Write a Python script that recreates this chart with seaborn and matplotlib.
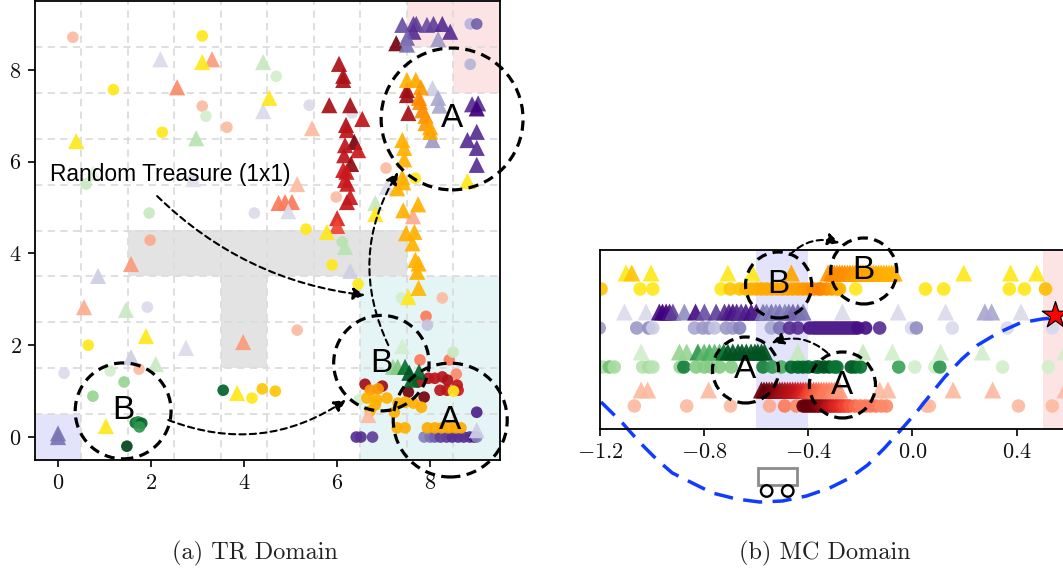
import matplotlib
matplotlib.use("Agg")
import matplotlib.pyplot as plt
import seaborn as sns
from matplotlib.patches import Ellipse, Rectangle

# ---- TR domain values (x, y, shade along the colormap)
tr_red_circ_x = [0.32, 3.10, 3.63, 1.98, 7.05, 5.98, 5.14, 8.26, 1.74, 7.91, 7.78, 8.41, 8.56,
                 6.60, 6.97, 7.74, 7.96, 8.10, 8.26, 8.37, 8.21, 8.36, 8.58, 8.60, 7.53, 7.87]
tr_red_circ_y = [8.71, 7.21, 6.75, 4.29, 5.86, 5.23, 2.33, 3.03, 1.48, 2.63, 1.68, 1.68, 1.37,
                 1.15, 1.11, 1.20, 1.28, 1.28, 1.31, 1.24, 1.02, 1.02, 1.13, 1.02, 0.98, 0.87]
tr_red_circ_s = [.25, .25, .25, .3, .25, .25, .25, .25, .25, .45, .45, .45, .4,
                 .88, .88, .85, .8, .8, .8, .85, .8, .8, .78, .75, .97, .97]

tr_yel_circ_x = [3.10, 1.19, 2.24, 0.65, 4.17, 5.33, 5.89, 6.45, 7.68, 4.67, 4.39, 8.50,
                 6.71, 6.88, 6.64, 6.85, 7.07, 6.71, 6.82, 7.23, 7.31, 7.46, 7.64, 7.81, 7.29, 7.46,
                 7.94, 8.10, 8.25, 8.40, 8.55, 8.66]
tr_yel_circ_y = [8.74, 7.57, 6.64, 2.00, 0.85, 4.53, 3.75, 3.33, 5.64, 1.00, 1.05, 1.00,
                 1.02, 1.05, 0.85, 0.81, 0.85, 0.57, 0.70, 0.54, 0.74, 0.76, 0.74, 0.65, 0.20, 0.20,
                 0.20, 0.20, 0.20, 0.20, 0.20, 0.20]
tr_yel_circ_s = [.25, .25, .25, .25, .25, .25, .25, .25, .25, .45, .45, .25,
                 .8, .8, .6, .6, .6, .6, .6, .6, .6, .6, .6, .6, .6, .6,
                 .65, .65, .65, .65, .65, .65]

tr_grn_circ_x = [3.18, 0.60, 1.96, 4.69, 6.11, 1.12, 7.38, 8.49, 6.47, 1.42, 0.75,
                 1.66, 1.72, 1.80, 1.75, 3.55, 1.48]
tr_grn_circ_y = [6.99, 5.51, 4.88, 7.86, 4.25, 1.44, 3.03, 1.85, 0.81, 1.20, 0.89,
                 0.31, 0.33, 0.30, 0.22, 1.02, -0.20]
tr_grn_circ_s = [.2, .25, .25, .2, .3, .2, .2, .25, .2, .4, .4,
                 .85, .75, .9, .7, .9, 1.0]

tr_pur_circ_x = [4.22, 0.13, 1.92, 5.40, 6.32, 2.90, 7.94, 8.86, 8.86, 9.00,
                 6.41, 6.51, 6.76, 7.87, 8.00, 8.10, 8.22, 8.35, 8.47, 8.60, 8.72, 8.85, 8.95, 9.00, 9.00]
tr_pur_circ_y = [4.88, 1.39, 2.83, 7.23, 7.06, 5.62, 2.44, 8.12, 9.00, 9.00,
                 0.00, 0.00, 0.00, 0.00, 0.00, 0.00, 0.00, 0.00, 0.00, 0.00, 0.00, 0.00, 0.00, 0.00, 0.54]
tr_pur_circ_s = [.25, .25, .25, .25, .25, .25, .35, .4, .4, .7,
                 .85, .85, .8, .6, .65, .7, .8, .8, .85, .85, .85, .85, .95, .6, .9]

tr_red_tri_x = [3.31, 2.56, 5.46, 5.14, 0.56, 1.57, 3.98, 7.63, 6.67, 4.74, 4.88, 5.03,
                6.04, 6.13, 6.13, 5.83, 6.28, 6.54, 6.19, 6.21, 6.37, 6.17, 6.45, 6.15, 6.30,
                6.13, 6.20, 6.17, 6.22, 6.28, 6.21, 6.00, 6.00, 7.27, 7.50, 7.50, 7.53]
tr_red_tri_y = [8.23, 7.62, 6.73, 5.51, 2.83, 3.77, 2.07, 4.81, 0.48, 5.10, 5.12, 5.12,
                8.13, 7.87, 7.78, 7.23, 7.23, 6.93, 6.80, 6.69, 6.43, 6.36, 6.25, 6.14, 5.95,
                5.82, 5.78, 5.60, 5.52, 5.23, 5.12, 4.77, 4.60, 8.58, 7.56, 7.45, 7.06]
tr_red_tri_s = [.35, .4, .25, .25, .3, .35, .35, .3, .25, .45, .45, .45,
                .85, .85, .85, .87, .87, .8, .85, .8, .97, .8, .75, .8, .92,
                .75, .75, .75, .75, .75, .78, .7, .6, .97, .88, .88, .87]

tr_yel_tri_x = [3.10, 0.39, 4.54, 1.89, 1.03, 3.85, 8.80, 6.82, 5.78, 7.53,
                7.50, 7.69, 7.80, 7.76, 7.78, 7.83, 7.90, 7.90, 8.00, 8.00, 7.40, 7.44, 7.44, 7.40,
                7.42, 7.29, 7.42, 7.74, 7.48, 7.66, 7.62, 7.68, 7.75, 7.72, 7.75]
tr_yel_tri_y = [8.17, 6.45, 7.39, 2.20, 0.24, 0.96, 5.58, 4.86, 4.47, 3.05,
                7.78, 7.78, 7.62, 7.39, 7.30, 7.12, 7.00, 6.84, 6.75, 6.65, 6.47, 6.30, 6.05, 5.66,
                5.55, 5.42, 4.94, 5.07, 4.44, 4.47, 4.22, 3.86, 3.78, 3.60, 3.25]
tr_yel_tri_s = [.25, .25, .25, .25, .25, .25, .25, .25, .25, .25,
                .6, .65, .8, .9, .9, .9, .85, .8, .7, .7, .6, .6, .6, .6,
                .6, .6, .6, .6, .6, .6, .6, .6, .6, .6, .55]

tr_grn_tri_x = [4.41, 2.97, 0.75, 1.46, 2.10, 6.82, 6.17, 7.40, 7.20, 7.30, 7.46, 7.55, 7.60, 7.76]
tr_grn_tri_y = [8.17, 6.51, 5.75, 2.77, 1.59, 5.10, 4.14, 1.98, 1.53, 1.53, 1.53, 1.40, 1.25, 1.42]
tr_grn_tri_s = [.25, .3, .15, .25, .25, .25, .3, .2, .4, .45, .85, .95, .9, .9]

tr_pur_tri_x = [2.20, 4.41, 2.90, 4.95, 7.07, 6.28, 0.86, 2.75, 1.57, 9.00, 0.00, 0.00,
                8.05, 8.17, 8.20, 8.05, 8.17, 8.90, 9.03, 9.00, 9.00, 8.80, 9.00, 9.00,
                7.40, 7.64, 7.70, 7.93, 8.07, 8.26, 8.43, 7.64, 7.50, 7.50]
tr_pur_tri_y = [8.23, 7.10, 5.62, 4.92, 5.45, 3.62, 3.51, 1.94, 1.74, 0.15, 0.08, 0.00,
                7.60, 7.39, 7.22, 6.47, 8.67, 7.25, 7.27, 7.16, 6.65, 6.47, 6.30, 5.93,
                8.98, 9.00, 9.00, 8.98, 9.00, 9.00, 8.83, 8.83, 8.70, 8.55]
tr_pur_tri_s = [.25, .25, .2, .25, .25, .3, .3, .25, .3, .3, .65, .65,
                .3, .45, .45, .5, .5, .85, .85, 1.0, .85, .85, .85, .85,
                .75, .8, .8, .75, .8, .85, .85, .85, .7, .65]

# ---- MC domain values (position along the track, shade), one row per list
mc_red_circ_x = [-1.068, -0.867, -0.699, -0.549, -0.491, -0.446, -0.42, -0.41, -0.40, -0.39, -0.38, -0.37, -0.36,
                 -0.35, -0.34, -0.33, -0.32, -0.31, -0.30, -0.29, -0.28, -0.27, -0.26, -0.25, -0.24,
                 -0.22, -0.20, -0.18, -0.16, -0.14, -0.12, -0.10,
                 0.054, 0.065, 0.407, 0.537]
mc_red_circ_s = [.25, .25, .25, .3, .45, .4, 1, 1, 1, 1, 1, .98, .95,
                 .92, .9, .85, .8, .75, .72, .7, .68, .65, .62, .6, .55,
                 .5, .45, .45, .45, .45, .4, .4,
                 .25, .25, .25, .25]
mc_red_tri_x = [-1.042, -1.017, -0.783, -0.58, -0.57, -0.56, -0.55, -0.54, -0.53, -0.52, -0.51, -0.50, -0.49,
                -0.48, -0.47, -0.46, -0.45, -0.44, -0.43, -0.42, -0.41, -0.40, -0.39, -0.38, -0.37,
                -0.36, -0.35, -0.34, -0.33, -0.32, -0.31, -0.30, -0.29, -0.28, -0.126, -0.094, 0.156, 0.308, 0.586]
mc_red_tri_s = [.25, .25, .25, 1, 1, 1, .98, .95, .95, .92, .9, .88, .86,
                .85, .82, .8, .78, .75, .72, .7, .65, .6, .58, .55, .52,
                .5, .48, .45, .45, .45, .42, .4, .38, .35, .25, .25, .25, .25, .25]
mc_grn_circ_x = [-1.19, -1.164, -1.145, -1.036, -1.013, -0.997, -0.892, -0.878, -0.831, -0.799, -0.773,
                 -0.741, -0.696, -0.574, -0.538, -0.504, -0.465, -0.44, -0.42, -0.40, -0.37, -0.36, -0.34, -0.32,
                 -0.30, -0.29, -0.235, -0.22, -0.20, -0.053, 0.009, 0.086, 0.105, 0.346, 0.522]
mc_grn_circ_s = [.3, .5, .35, .3, .35, .3, .4, .8, .45, .45, .45,
                 .45, .45, .8, .7, .6, .9, .9, .9, .9, .9, .9, .95, .95,
                 .85, .85, .95, .9, .85, .65, .2, .2, .7, .2, .2]
mc_grn_tri_x = [-1.042, -0.895, -0.867, -0.824, -0.80, -0.78, -0.76, -0.741, -0.725, -0.709, -0.69, -0.67,
                -0.655, -0.638, -0.62, -0.605, -0.594, -0.58, -0.568,
                -0.44, -0.19, -0.077, 0.108, 0.268, 0.586]
mc_grn_tri_s = [.2, .4, .4, .7, .55, .6, .55, .55, .85, .95, .95, .95,
                .95, .95, .95, .95, .95, .95, .95,
                .25, .25, .2, .2, .2, .2]
mc_pur_circ_x = [-1.203, -1.059, -1.013, -0.997, -0.837, -0.805, -0.783, -0.76, -0.715, -0.69, -0.664,
                 -0.542, -0.51, -0.472, -0.44, -0.395, -0.38, -0.37, -0.36, -0.35, -0.34, -0.33, -0.32, -0.31,
                 -0.30, -0.29, -0.28, -0.27, -0.26, -0.25, -0.24, -0.23, -0.22, -0.21, -0.18, -0.126,
                 -0.004, 0.015, 0.153, 0.364, 0.537]
mc_pur_circ_s = [.5, .5, .55, .3, .45, .5, .5, .35, .5, .5, .6,
                 .45, .65, .85, .85, .95, .9, .9, .9, .9, .9, .9, .9, .9,
                 .9, .9, .9, .9, .9, .9, .9, .9, .9, .95, .95, .85,
                 .25, .55, .25, .25, .25]
mc_pur_tri_x = [-1.106, -1.023, -0.972, -0.96, -0.946, -0.933, -0.92, -0.876, -0.833, -0.799, -0.754, -0.722, -0.705,
                -0.69, -0.675, -0.658, -0.64, -0.619, -0.60, -0.574, -0.56, -0.542, -0.525, -0.51, -0.49, -0.475,
                -0.459, -0.44, -0.42, -0.269, -0.055, 0.127, 0.278, 0.304, 0.417]
mc_pur_tri_s = [.25, .25, .95, 1, 1, .95, .8, .55, .95, .75, .8, .85, .9,
                .95, .9, .85, .9, .95, .9, .65, .6, .65, .6, .65, .6, .65,
                .7, .7, .65, .25, .25, .25, .45, .45, .25]
mc_yel_circ_x = [-1.196, -1.046, -0.997, -0.735, -0.70, -0.664, -0.64, -0.62, -0.60, -0.58, -0.56, -0.54, -0.52, -0.50,
                 -0.48, -0.46, -0.44, -0.42, -0.40, -0.38, -0.36, -0.35, -0.33, -0.31, -0.29, -0.28, -0.218,
                 0.05, 0.12, 0.372, 0.43, 0.511]
mc_yel_circ_s = [.45, .25, .25, .25, .45, .45, .55, .6, .62, .65, .65, .68, .68, .7,
                 .7, .72, .75, .78, .82, .9, .95, .95, .9, .8, .7, .6, .25,
                 .25, .25, .25, .25, .5]
mc_yel_tri_x = [-1.10, -1.078, -1.004, -0.709, -0.615, -0.465, -0.324, -0.31, -0.30, -0.29, -0.28, -0.27, -0.26,
                -0.25, -0.24, -0.23, -0.22, -0.21, -0.20, -0.19, -0.18, -0.17, -0.16, -0.15, -0.14, -0.13,
                -0.12, -0.11, -0.10, -0.09, -0.08, -0.07, 0.197, 0.377, 0.477]
mc_yel_tri_s = [.25, .45, .25, .25, .25, .7, .8, .95, .95, .9, .9, .9, .88,
                .85, .85, .8, .8, .75, .75, .72, .72, .7, .7, .68, .66, .65,
                .64, .62, .62, .6, .6, .6, .25, .25, .25]

# height of each row above the axis line
mc_rows = {"red_circ": 23, "red_tri": 39, "grn_circ": 62, "grn_tri": 77,
           "pur_circ": 101, "pur_tri": 117, "yel_circ": 140, "yel_tri": 156}

# the hill
hill_x = [-1.196, -1.114, -1.049, -0.98, -0.922, -0.83, -0.768, -0.676, -0.587, -0.499, -0.407, -0.318,
          -0.241, -0.172, -0.107, -0.038, 0.016, 0.074, 0.124, 0.19, 0.251, 0.328, 0.413, 0.497, 0.54]
hill_y = [27, 6, -13, -31, -44, -56, -64, -70, -73, -72, -67, -59,
          -49, -36, -19, 1, 17, 36, 52, 70, 84, 96, 106, 110, 111]

tr_ticks = [0, 2, 4, 6, 8]
tr_grid = [0.5, 1.5, 2.5, 3.5, 4.5, 5.5, 6.5, 7.5, 8.5]
mc_ticks = [-1.2, -0.8, -0.4, 0.0, 0.4]
mc_ticklabels = ["$-1.2$", "$-0.8$", "$-0.4$", "$0.0$", "$0.4$"]

sns.set_theme(style="ticks")
plt.rcParams["mathtext.fontset"] = "cm"
plt.rcParams["font.family"] = ["cmr10", "DejaVu Serif"]
plt.rcParams["axes.formatter.use_mathtext"] = True
plt.rcParams["axes.unicode_minus"] = False

W, H = 1063, 573
fig = plt.figure(figsize=(W / 100, H / 100), dpi=100)
ax1 = fig.add_axes([34.75 / W, 1 - 460 / H, 465.25 / W, 459 / H])
ax2 = fig.add_axes([600 / W, 1 - 429 / H, 468.7 / W, 179 / H])

SANS = "Liberation Sans"


def draw(ax, xs, ys, shades, palette, marker, size):
    sns.scatterplot(x=xs, y=ys, hue=shades, hue_norm=(0, 1), palette=palette, marker=marker,
                    s=size, alpha=0.92, linewidth=0, legend=False, ax=ax, zorder=3)


def ring(ax, cx, cy, w, h, label):
    ax.add_patch(Ellipse((cx, cy), w, h, fill=False, ec="black", lw=2.3, ls=(0, (3.2, 2)),
                         clip_on=False, zorder=6))
    ax.text(cx, cy, label, family=SANS, fontsize=24, color="black", ha="center", va="center", zorder=7)


def arrow(ax, start, end, rad):
    ax.annotate("", xy=end, xytext=start, annotation_clip=False, zorder=6,
                arrowprops=dict(arrowstyle="-|>", mutation_scale=18, color="black", lw=1.5, ls=(0, (3, 2)),
                                shrinkA=0, shrinkB=0, connectionstyle=f"arc3,rad={rad}"))


# ---- (a) TR domain
for (x0, y0, w, h, c) in [(1.5, 3.5, 6.0, 1.0, "#e3e3e3"), (3.5, 1.5, 1.0, 2.0, "#e3e3e3"),
                          (-0.5, -0.5, 1.0, 1.0, "#e3e3fb"), (7.5, 8.5, 2.0, 1.0, "#fde4e4"),
                          (8.5, 7.5, 1.0, 1.0, "#fde4e4"), (6.5, -0.5, 3.0, 4.0, "#e5f5f5")]:
    ax1.add_patch(Rectangle((x0, y0), w, h, fc=c, ec="none", zorder=0.3))

draw(ax1, tr_red_circ_x, tr_red_circ_y, tr_red_circ_s, "Reds", "o", 70)
draw(ax1, tr_grn_circ_x, tr_grn_circ_y, tr_grn_circ_s, "Greens", "o", 70)
draw(ax1, tr_pur_circ_x, tr_pur_circ_y, tr_pur_circ_s, "Purples", "o", 70)
draw(ax1, tr_yel_circ_x, tr_yel_circ_y, tr_yel_circ_s, "Wistia", "o", 70)
draw(ax1, tr_grn_tri_x, tr_grn_tri_y, tr_grn_tri_s, "Greens", "^", 135)
draw(ax1, tr_red_tri_x, tr_red_tri_y, tr_red_tri_s, "Reds", "^", 135)
draw(ax1, tr_pur_tri_x, tr_pur_tri_y, tr_pur_tri_s, "Purples", "^", 135)
draw(ax1, tr_yel_tri_x, tr_yel_tri_y, tr_yel_tri_s, "Wistia", "^", 135)

ax1.set_xlim(-0.5, 9.5)
ax1.set_ylim(-0.5, 9.5)
ax1.set_xticks(tr_ticks)
ax1.set_yticks(tr_ticks)
ax1.set_xticks(tr_grid, minor=True)
ax1.set_yticks(tr_grid, minor=True)
ax1.set_axisbelow(True)
ax1.grid(which="minor", color="#dcdcdc", ls=(0, (4, 3)), lw=1.3)
ax1.tick_params(which="minor", length=0)

ring(ax1, 8.47, 6.93, 3.05, 3.09, "A")
ring(ax1, 8.43, 0.37, 2.45, 2.48, "A")
ring(ax1, 1.40, 0.57, 2.06, 2.09, "B")
ring(ax1, 6.95, 1.61, 2.05, 2.08, "B")
arrow(ax1, (2.13, 5.25), (6.60, 3.09), 0.17)
arrow(ax1, (2.37, 0.37), (6.19, 0.81), 0.26)
arrow(ax1, (7.10, 2.00), (7.31, 5.77), -0.27)
ax1.text(-0.17, 5.71, "Random Treasure (1x1)", family=SANS, fontsize=16.4, color="black", va="center", zorder=7)

# ---- (b) MC domain
ax2.axvspan(-0.6, -0.4, fc="#e3e3fb", ec="none", zorder=0.3)
ax2.axvspan(0.5, 0.6, fc="#fde4e4", ec="none", zorder=0.3)

for xs, shades, row, pal, marker in [
    (mc_red_circ_x, mc_red_circ_s, "red_circ", "Reds", "o"),
    (mc_red_tri_x, mc_red_tri_s, "red_tri", "Reds", "^"),
    (mc_grn_circ_x, mc_grn_circ_s, "grn_circ", "Greens", "o"),
    (mc_grn_tri_x, mc_grn_tri_s, "grn_tri", "Greens", "^"),
    (mc_pur_circ_x, mc_pur_circ_s, "pur_circ", "Purples", "o"),
    (mc_pur_tri_x, mc_pur_tri_s, "pur_tri", "Purples", "^"),
    (mc_yel_circ_x, mc_yel_circ_s, "yel_circ", "Wistia", "o"),
    (mc_yel_tri_x, mc_yel_tri_s, "yel_tri", "Wistia", "^"),
]:
    draw(ax2, xs, [mc_rows[row]] * len(xs), shades, pal, marker, 95 if marker == "o" else 150)

sns.lineplot(x=hill_x, y=hill_y, color="#0f3cff", lw=2.5, ls=(0, (5.5, 3)), sort=False, errorbar=None,
             ax=ax2, clip_on=False, zorder=5)
sns.scatterplot(x=[0.547], y=[114], marker="*", s=400, color="red", edgecolor="black", linewidth=0.9,
                ax=ax2, clip_on=False, zorder=8, legend=False)

# cart under the hill
ax2.add_patch(Rectangle((-0.595, -56), 0.15, 17, fc="white", ec="#8c8c8c", lw=2, clip_on=False, zorder=5))
ax2.add_patch(Ellipse((-0.56, -62), 0.044, 11.5, fc="white", ec="black", lw=1.7, clip_on=False, zorder=5))
ax2.add_patch(Ellipse((-0.479, -62), 0.044, 11.5, fc="white", ec="black", lw=1.7, clip_on=False, zorder=5))

ax2.set_xlim(-1.2, 0.6)
ax2.set_ylim(0, 179)
ax2.set_xticks(mc_ticks)
ax2.set_xticklabels(mc_ticklabels)
ax2.set_yticks([])

ring(ax2, -0.641, 59, 0.254, 66, "A")
ring(ax2, -0.269, 44, 0.254, 66, "A")
ring(ax2, -0.514, 144, 0.254, 66, "B")
ring(ax2, -0.187, 158, 0.254, 66, "B")
arrow(ax2, (-0.472, 174), (-0.28, 186), -0.3)
arrow(ax2, (-0.326, 76), (-0.541, 86), 0.3)

for ax in (ax1, ax2):
    ax.tick_params(axis="both", which="major", labelsize=16, length=5, width=1.2, pad=4.5,
                   color="black", labelcolor="#111111")
    for side in ax.spines.values():
        side.set_color("black")
        side.set_linewidth(1.3)
        side.set_zorder(9)

fig.text(255 / W, 1 - 553 / H, "(a) TR Domain", fontsize=17.5, color="#222222", ha="center", va="center")
fig.text(825 / W, 1 - 553 / H, "(b) MC Domain", fontsize=17.5, color="#222222", ha="center", va="center")

fig.savefig("out.png", dpi=100)
